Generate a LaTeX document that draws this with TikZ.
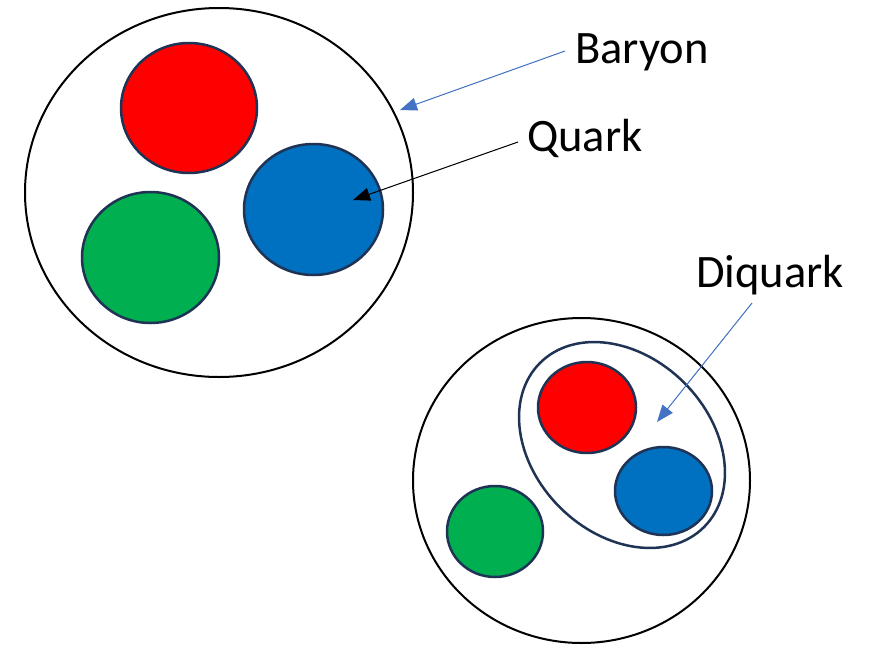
\documentclass[tikz,border=0pt]{standalone}
\usepackage{fontspec}
\setmainfont{Carlito}
\usetikzlibrary{shapes.geometric,arrows.meta}
\definecolor{qred}{HTML}{FF0000}
\definecolor{qblue}{HTML}{0070C0}
\definecolor{qgreen}{HTML}{00B050}
\definecolor{qedge}{HTML}{1F3354}
\definecolor{arrowblue}{HTML}{4472C4}
\begin{document}
\begin{tikzpicture}[x=1pt,y=-1pt,
  hadron/.style={ellipse, draw=black, line width=2pt, inner sep=0pt},
  quark/.style={ellipse, draw=qedge, line width=2.5pt, inner sep=0pt},
  label/.style={anchor=base west, inner sep=0pt, font=\fontsize{46.5}{50}\selectfont},
  pointer/.style={line width=1pt, -{Triangle[length=17pt,width=13pt]}}]
\useasboundingbox (0,0) rectangle (871,646);
% Baryon
\node[hadron, minimum width=388pt, minimum height=369pt] (bar) at (219,192.5) {};
\node[quark, fill=qred, minimum width=136pt, minimum height=130pt] (r1) at (189,108) {};
\node[quark, fill=qblue, minimum width=139pt, minimum height=131pt] (b1) at (313.5,209.5) {};
\node[quark, fill=qgreen, minimum width=137pt, minimum height=131pt] (g1) at (150.5,257.5) {};
% Hadron with diquark
\node[hadron, minimum width=337pt, minimum height=325pt] (dbar) at (581.5,480.5) {};
\node[ellipse, draw=qedge, line width=2.5pt, inner sep=0pt, minimum width=232pt, minimum height=176pt, rotate=-45] (dq) at (622,445) {};
\node[quark, fill=qred, minimum width=98pt, minimum height=91pt] (r2) at (587,407.5) {};
\node[quark, fill=qblue, minimum width=97pt, minimum height=88pt] (b2) at (663.5,491) {};
\node[quark, fill=qgreen, minimum width=96pt, minimum height=91pt] (g2) at (495,531.5) {};
% Labels
\node[label] (tbar) at (575,63) {Baryon};
\node[label] (tq) at (527,151) {Quark};
\node[label] (tdq) at (696,287) {Diquark};
% Arrow endpoints
\coordinate (sbar) at (565,51);
\coordinate (ebar) at (400,110);
\coordinate (sq) at (518,142);
\coordinate (eq) at (353,200);
\coordinate (sdq) at (752,303);
\coordinate (edq) at (657,422);
\draw[pointer, draw=arrowblue, fill=arrowblue] (sbar) -- (ebar);
\draw[pointer, draw=black, fill=black] (sq) -- (eq);
\draw[pointer, draw=arrowblue, fill=arrowblue] (sdq) -- (edq);
\end{tikzpicture}
\end{document}
